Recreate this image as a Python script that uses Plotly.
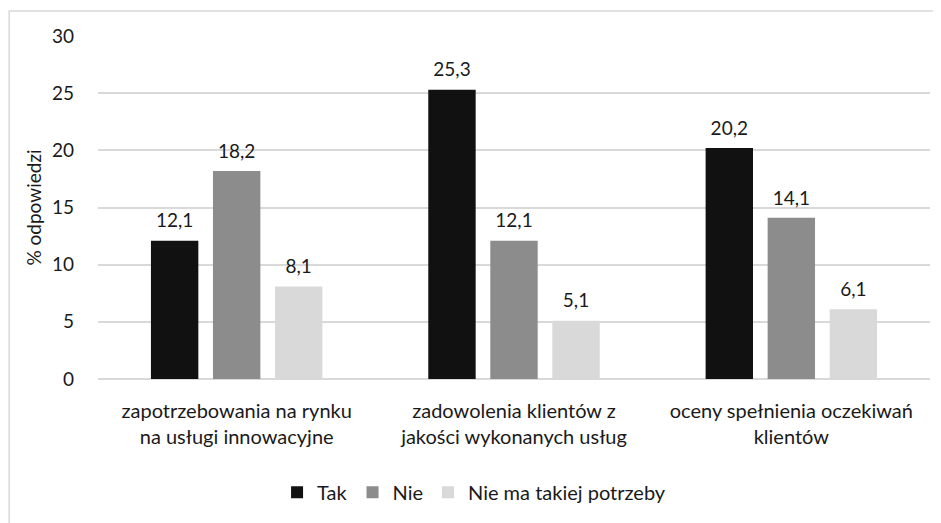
import plotly.graph_objects as go

categories = [
    "zapotrzebowania na rynku<br>na usługi innowacyjne",
    "zadowolenia klientów z<br>jakości wykonanych usług",
    "oceny spełnienia oczekiwań<br>klientów",
]
series_names = ["Tak", "Nie", "Nie ma takiej potrzeby"]
tak = [12.1, 25.3, 20.2]
nie = [18.2, 12.1, 14.1]
brak = [8.1, 5.1, 6.1]
y_ticks = [0, 5, 10, 15, 20, 25, 30]

colors = ["#111111", "#8c8c8c", "#d9d9d9"]
FONT = "Lato, 'Open Sans', sans-serif"
TXT = "#1a1a1a"
FS = 19
FL = 20

fig = go.Figure()
for name, vals, col in zip(series_names, [tak, nie, brak], colors):
    fig.add_trace(go.Bar(
        x=categories, y=vals, name=name, marker=dict(color=col, line=dict(width=0)),
        offsetgroup=name, hoverinfo="skip",
    ))
for name, vals in zip(series_names, [tak, nie, brak]):
    fig.add_trace(go.Scatter(
        x=categories, y=vals, mode="markers+text", offsetgroup=name,
        marker=dict(size=12, color="rgba(0,0,0,0)"),
        text=[f"{v:.1f}".replace(".", ",") for v in vals],
        textposition="top center", textfont=dict(size=FS, color=TXT, family=FONT),
        showlegend=False, hoverinfo="skip", cliponaxis=False,
    ))

# chart-area border
fig.add_shape(type="rect", xref="paper", yref="paper",
              x0=-0.1068, x1=1.03, y0=-0.45, y1=1.0729,
              line=dict(color="#d9d9d9", width=1.5), fillcolor="rgba(0,0,0,0)", layer="below")

fig.update_layout(
    width=933, height=515,
    margin=dict(l=90, r=11, t=28, b=136),
    paper_bgcolor="white", plot_bgcolor="white",
    barmode="group", bargap=0.329, bargroupgap=0.236,
    scattermode="group", scattergap=0.329,
    font=dict(family=FONT, size=FS, color=TXT),
    showlegend=True,
    legend=dict(orientation="h", x=0.452, xanchor="center", y=-0.33, yanchor="middle",
                font=dict(size=FL, color=TXT), itemwidth=30, traceorder="normal"),
    xaxis=dict(showgrid=False, showline=False, ticks="", ticklabelstandoff=18,
               tickfont=dict(size=FL, color=TXT)),
    yaxis=dict(range=[0, 30], tickvals=y_ticks, showgrid=True, gridcolor="#d9d9d9", gridwidth=1.5,
               zeroline=True, zerolinecolor="#d9d9d9", zerolinewidth=1.5, showline=False,
               ticks="", ticklabelstandoff=23, tickfont=dict(size=FS, color=TXT),
               title=dict(text="% odpowiedzi", font=dict(size=FS, color=TXT), standoff=5)),
)

fig.write_html("out.html")
